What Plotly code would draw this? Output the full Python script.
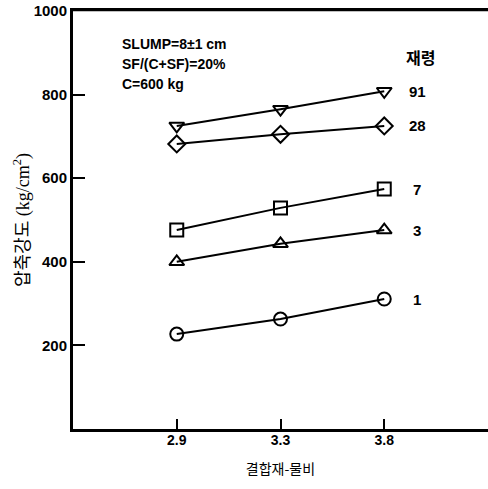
import plotly.graph_objects as go

x_labels = ["2.9", "3.3", "3.8"]
x_pos = [0, 1, 2]

ages = ["91", "28", "7", "3", "1"]
s91 = [725, 765, 808]
s28 = [682, 705, 725]
s7 = [476, 529, 574]
s3 = [400, 443, 476]
s1 = [227, 263, 311]
series = [s91, s28, s7, s3, s1]
symbols = ["triangle-down-open", "diamond-open", "square-open", "triangle-up-open", "circle-open"]

y_ticks = [200, 400, 600, 800, 1000]
y_range = [0, 1000]
x_range = [-1, 3]

fig = go.Figure()
for name, vals, sym in zip(ages, series, symbols):
    fig.add_trace(go.Scatter(
        x=x_pos, y=vals, mode="lines+markers", name=name,
        line=dict(color="black", width=2),
        marker=dict(symbol=sym, size=13, color="black", line=dict(color="black", width=2)),
        showlegend=False, cliponaxis=False,
    ))
    fig.add_annotation(x=2.32, y=vals[-1], text="<b>%s</b>" % name, showarrow=False,
                       xanchor="center", yanchor="middle",
                       font=dict(family="Liberation Sans Narrow, Liberation Sans, Arial", size=15, color="black"))

fig.add_annotation(x=2.35, y=889, text="<b>재령</b>", showarrow=False,
                   font=dict(family="Noto Sans CJK KR", size=16, color="black"))

notes = ["SLUMP=8±1 cm", "SF/(C+SF)=20%", "C=600 kg"]
for i, t in enumerate(notes):
    fig.add_annotation(x=-0.55, y=922 - i * 48, text="<b>%s</b>" % t, showarrow=False,
                       xanchor="left", yanchor="middle",
                       font=dict(family="Liberation Sans Narrow, Liberation Sans, Arial", size=14, color="black"))

# top frame line of the plot box (paper coordinates, not clipped)
fig.add_shape(type="line", xref="paper", yref="paper", x0=0, x1=1, y0=1.003, y1=1.003,
              line=dict(color="black", width=3), layer="above")

fig.update_layout(
    width=488, height=489,
    margin=dict(l=73, r=0, t=11, b=60),
    paper_bgcolor="white", plot_bgcolor="white",
    font=dict(family="Liberation Sans", color="black"),
    xaxis=dict(
        range=x_range, tickvals=x_pos, ticktext=["<b>%s</b>" % s for s in x_labels],
        showgrid=False, zeroline=False, showline=True, linecolor="black", linewidth=3,
        mirror=True, ticks="inside", ticklen=10, tickwidth=2, tickcolor="black",
        ticklabelstandoff=-4,
        tickfont=dict(family="Liberation Sans", size=14, color="black"),
        title=dict(text="결합재-물비", font=dict(family="Noto Sans CJK KR", size=14, color="black"), standoff=18),
    ),
    yaxis=dict(
        range=y_range, tickvals=y_ticks, ticktext=["<b>%d</b>" % v for v in y_ticks],
        showgrid=False, zeroline=False, showline=True, linecolor="black", linewidth=3,
        ticks="inside", ticklen=12, tickwidth=2, tickcolor="black",
        ticklabeloverflow="allow",
        tickfont=dict(family="Liberation Sans Narrow, Liberation Sans", size=15, color="black"),
        title=dict(text="압축강도 (kg/cm<sup>2</sup>)", font=dict(family="Liberation Serif, Noto Sans CJK KR", size=18, color="black"), standoff=0),
    ),
)

fig.write_html("out.html", config={"displayModeBar": False},
               post_script="document.body.style.margin='0px';")
